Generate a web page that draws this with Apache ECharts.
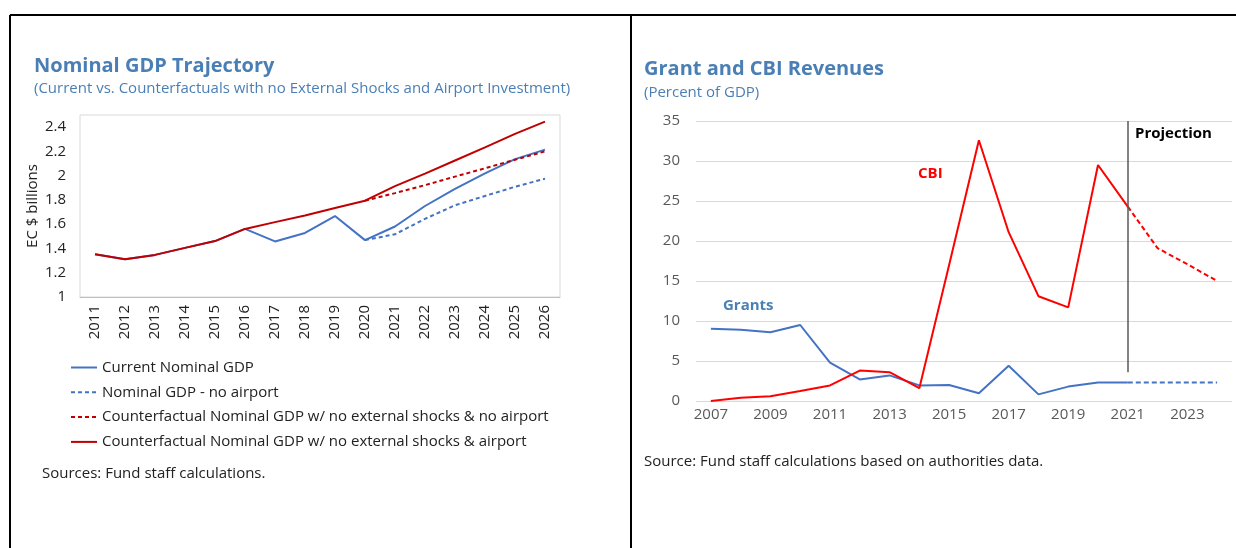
<!DOCTYPE html>
<html>
<head>
<meta charset="utf-8">
<title>Nominal GDP / Grant and CBI</title>
<script src="https://cdn.jsdelivr.net/npm/echarts@6/dist/echarts.min.js"></script>
<style>
  html, body { margin: 0; padding: 0; background: #fff; }
  #chart { width: 1236px; height: 548px; }
</style>
</head>
<body>
<div id="chart"></div>
<script>
// left panel: nominal GDP (EC$ billions)
var gdpYears = ['2011','2012','2013','2014','2015','2016','2017','2018','2019','2020','2021','2022','2023','2024','2025','2026'];
var gdpCurrent = [1.353,1.311,1.347,1.405,1.461,1.561,1.458,1.528,1.667,1.469,1.581,1.750,1.892,2.019,2.136,2.215];
var gdpNoAirport = [null,null,null,null,null,null,null,null,null,1.469,1.517,1.644,1.756,1.833,1.908,1.975];
var gdpCfNoAirport = [null,null,null,null,null,null,null,null,null,1.794,1.856,1.922,1.992,2.061,2.131,2.200];
var gdpCfAirport = [1.353,1.311,1.347,1.405,1.461,1.561,1.617,1.672,1.733,1.794,1.914,2.017,2.125,2.233,2.344,2.445];

// right panel: grant and CBI revenues (percent of GDP)
var revYears = ['2007','2008','2009','2010','2011','2012','2013','2014','2015','2016','2017','2018','2019','2020','2021','2022','2023','2024'];
var grants = [9.04,8.9,8.6,9.5,4.8,2.7,3.2,1.95,2.0,0.96,4.4,0.83,1.8,2.3,2.3,null,null,null];
var grantsProj = [null,null,null,null,null,null,null,null,null,null,null,null,null,null,2.3,2.3,2.3,2.3];
var cbi = [0,0.4,0.6,1.25,1.95,3.8,3.6,1.6,17.0,32.6,21.1,13.1,11.7,29.5,24.3,null,null,null];
var cbiProj = [null,null,null,null,null,null,null,null,null,null,null,null,null,null,24.3,19.1,17.1,15.0];
var projYear = '2021';
var projTop = 35;
var projBottom = 3.6;

var FONT = '"Open Sans", "Noto Sans", sans-serif';
var TITLE_COLOR = '#4a7fb5';
var BLUE = '#4472c4';
var DARKRED = '#c00000';
var RED = '#ff0000';

var chart = echarts.init(document.getElementById('chart'));

var option = {
  backgroundColor: '#fff',
  textStyle: { fontFamily: FONT },
  animation: false,
  title: [
    { text: 'Nominal GDP Trajectory', left: 34, top: 56, padding: 0,
      textStyle: { fontFamily: FONT, fontSize: 20, fontWeight: 'bold', color: TITLE_COLOR } },
    { text: '(Current vs. Counterfactuals with no External Shocks and Airport Investment)', left: 34, top: 81, padding: 0,
      textStyle: { fontFamily: FONT, fontSize: 15, fontWeight: 'normal', color: TITLE_COLOR } },
    { text: 'Grant and CBI Revenues', left: 644, top: 59, padding: 0,
      textStyle: { fontFamily: FONT, fontSize: 20, fontWeight: 'bold', color: TITLE_COLOR } },
    { text: '(Percent of GDP)', left: 644, top: 85, padding: 0,
      textStyle: { fontFamily: FONT, fontSize: 15, fontWeight: 'normal', color: TITLE_COLOR } }
  ],
  legend: {
    orient: 'vertical',
    left: 70,
    top: 360,
    itemWidth: 26,
    itemHeight: 14,
    itemGap: 9.8,
    padding: 0,
    itemStyle: { opacity: 0 },
    textStyle: { fontFamily: FONT, fontSize: 15, color: '#222' },
    data: ['Current Nominal GDP', 'Nominal GDP - no airport',
      'Counterfactual Nominal GDP w/ no external shocks & no airport',
      'Counterfactual Nominal GDP w/ no external shocks & airport']
  },
  grid: [
    { left: 80, top: 115, width: 480, height: 182, show: true, borderColor: '#d9d9d9', borderWidth: 1, containLabel: false },
    { left: 696, top: 121, width: 536, height: 280, containLabel: false }
  ],
  xAxis: [
    {
      gridIndex: 0, type: 'category', data: gdpYears, boundaryGap: true,
      axisLine: { lineStyle: { color: '#bfbfbf' } },
      axisTick: { inside: true, length: 5, lineStyle: { color: '#bfbfbf' } },
      axisLabel: { rotate: 90, margin: 8, fontSize: 15, color: '#222', fontFamily: FONT }
    },
    {
      gridIndex: 1, type: 'category', data: revYears, boundaryGap: true,
      axisLine: { show: false },
      axisTick: { show: false },
      axisLabel: { interval: 1, margin: 6, fontSize: 15, color: '#595959', fontFamily: FONT }
    }
  ],
  yAxis: [
    {
      gridIndex: 0, type: 'value', min: 1, max: 2.5, interval: 0.2,
      name: 'EC $ billions', nameLocation: 'middle', nameRotate: 90, nameGap: 40,
      nameTextStyle: { fontSize: 15, color: '#222', fontFamily: FONT },
      axisLine: { show: false }, axisTick: { show: false },
      splitLine: { show: false },
      axisLabel: { showMaxLabel: false, fontSize: 15, color: '#222', margin: 14, fontFamily: FONT }
    },
    {
      gridIndex: 1, type: 'value', min: 0, max: 35, interval: 5,
      axisLine: { show: false }, axisTick: { show: false },
      splitLine: { lineStyle: { color: '#d9d9d9', width: 1 } },
      axisLabel: { fontSize: 15, color: '#595959', margin: 16, fontFamily: FONT }
    }
  ],
  series: [
    { name: 'Current Nominal GDP', type: 'line', xAxisIndex: 0, yAxisIndex: 0, data: gdpCurrent,
      symbol: 'none', lineStyle: { color: BLUE, width: 2 }, itemStyle: { color: BLUE } },
    { name: 'Nominal GDP - no airport', type: 'line', xAxisIndex: 0, yAxisIndex: 0, data: gdpNoAirport,
      symbol: 'none', lineStyle: { color: BLUE, width: 2, type: [4, 3] }, itemStyle: { color: BLUE } },
    { name: 'Counterfactual Nominal GDP w/ no external shocks & no airport', type: 'line', xAxisIndex: 0, yAxisIndex: 0,
      data: gdpCfNoAirport, symbol: 'none', lineStyle: { color: DARKRED, width: 2, type: [4, 3] }, itemStyle: { color: DARKRED } },
    { name: 'Counterfactual Nominal GDP w/ no external shocks & airport', type: 'line', xAxisIndex: 0, yAxisIndex: 0,
      data: gdpCfAirport, symbol: 'none', lineStyle: { color: DARKRED, width: 2 }, itemStyle: { color: DARKRED } },

    { name: 'Grants', type: 'line', xAxisIndex: 1, yAxisIndex: 1, data: grants,
      symbol: 'none', lineStyle: { color: BLUE, width: 2 }, itemStyle: { color: BLUE },
      markLine: {
        silent: true, symbol: ['none', 'none'], label: { show: false },
        lineStyle: { color: '#595959', width: 1.5, type: 'solid' },
        data: [[{ coord: [projYear, projTop] }, { coord: [projYear, projBottom] }]]
      } },
    { name: 'Grants (proj.)', type: 'line', xAxisIndex: 1, yAxisIndex: 1, data: grantsProj,
      symbol: 'none', lineStyle: { color: BLUE, width: 2, type: [5, 3] }, itemStyle: { color: BLUE } },
    { name: 'CBI', type: 'line', xAxisIndex: 1, yAxisIndex: 1, data: cbi,
      symbol: 'none', lineStyle: { color: RED, width: 2 }, itemStyle: { color: RED } },
    { name: 'CBI (proj.)', type: 'line', xAxisIndex: 1, yAxisIndex: 1, data: cbiProj,
      symbol: 'none', lineStyle: { color: RED, width: 2, type: [5, 3] }, itemStyle: { color: RED } }
  ],
  graphic: [
    // frame lines
    { type: 'line', shape: { x1: 10, y1: 15, x2: 1236, y2: 15 }, style: { stroke: '#000', lineWidth: 2 } },
    { type: 'line', shape: { x1: 10, y1: 15, x2: 10, y2: 548 }, style: { stroke: '#000', lineWidth: 2 } },
    { type: 'line', shape: { x1: 631, y1: 15, x2: 631, y2: 548 }, style: { stroke: '#000', lineWidth: 2 } },
    // notes
    { type: 'text', left: 42, top: 466,
      style: { text: 'Sources: Fund staff calculations.', font: '15px ' + FONT, fill: '#222' } },
    { type: 'text', left: 644, top: 454,
      style: { text: 'Source: Fund staff calculations based on authorities data.', font: '15px ' + FONT, fill: '#222' } },
    // annotations
    { type: 'text', left: 1135, top: 126,
      style: { text: 'Projection', font: 'bold 15px ' + FONT, fill: '#000' } },
    { type: 'text', left: 918, top: 166,
      style: { text: 'CBI', font: 'bold 15px ' + FONT, fill: RED } },
    { type: 'text', left: 723, top: 298,
      style: { text: 'Grants', font: 'bold 15px ' + FONT, fill: TITLE_COLOR } }
  ]
};

chart.setOption(option);
</script>
</body>
</html>
